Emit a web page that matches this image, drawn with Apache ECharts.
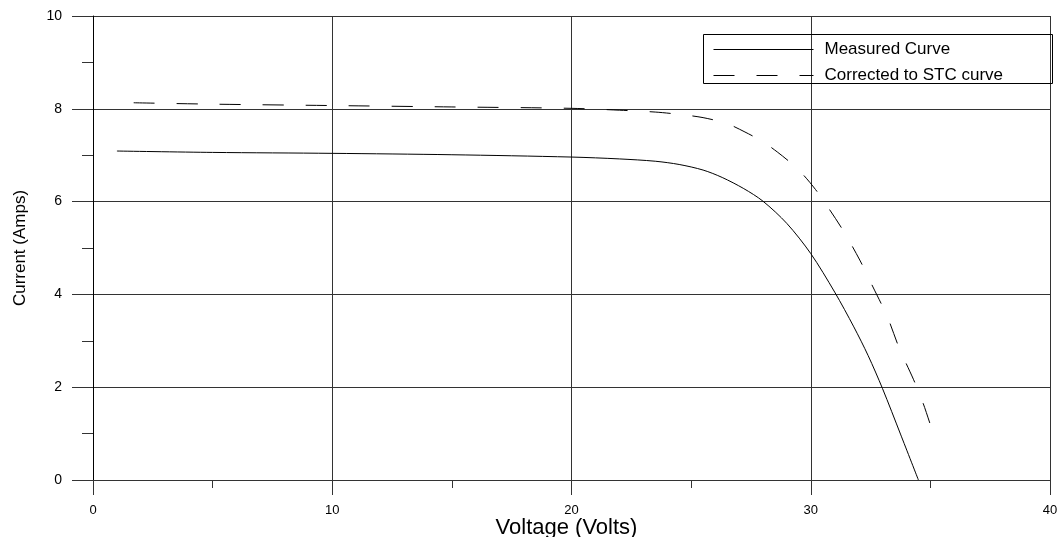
<!DOCTYPE html>
<html>
<head>
<meta charset="utf-8">
<script src="https://cdn.jsdelivr.net/npm/echarts@6/dist/echarts.min.js"></script>
<style>
html,body{margin:0;padding:0;background:#fff;}
#chart{width:1063px;height:537px;}
</style>
</head>
<body>
<div id="chart"></div>
<script>
const measuredV = [1, 5, 10, 15, 20, 22, 23.5, 24.5, 25.5, 26.3, 27.2, 28, 29, 30, 31, 31.8, 32.4, 33, 33.75, 34.5];
const measuredI = [7.09, 7.06, 7.04, 7.01, 6.96, 6.92, 6.87, 6.80, 6.68, 6.52, 6.28, 6.01, 5.53, 4.88, 4.05, 3.30, 2.68, 1.97, 0.99, 0];
const stcV = [1.7, 5, 10, 15, 20, 22, 23.5, 24.5, 25.5, 26.5, 27.25, 28, 28.6, 29.2, 29.7, 30.2, 30.6, 31.35, 32.05, 32.6, 33.2, 33.7, 34.3, 34.7, 35.1];
const stcI = [8.13, 8.10, 8.07, 8.04, 8.01, 7.97, 7.93, 7.88, 7.81, 7.68, 7.50, 7.29, 7.07, 6.82, 6.57, 6.26, 5.97, 5.38, 4.74, 4.16, 3.52, 2.84, 2.16, 1.65, 1.03];
const seriesNames = ['Measured Curve', 'Corrected to STC curve'];
const xTitle = 'Voltage (Volts)';
const yTitle = 'Current (Amps)';

const font = "'Liberation Sans', Arial, sans-serif";
const gridColor = '#333';
const pair = (xs, ys) => xs.map((x, i) => [x, ys[i]]);

const chart = echarts.init(document.getElementById('chart'), null, {renderer: 'canvas'});
chart.setOption({
  animation: false,
  backgroundColor: '#fff',
  grid: {left: 93, right: 13, top: 16, bottom: 57, containLabel: false, outerBoundsMode: 'none'},
  graphic: [{
    type: 'rect', z: 5,
    shape: {x: 703.5, y: 34.5, width: 349, height: 49},
    style: {fill: 'none', stroke: '#000', lineWidth: 1}
  }],
  legend: {
    orient: 'vertical', left: 713, top: 41, padding: 0,
    itemWidth: 100, itemHeight: 14, itemGap: 9,
    itemStyle: {opacity: 0},
    lineStyle: {width: 1},
    textStyle: {fontSize: 17, color: '#000', fontFamily: font, padding: [0, 0, 0, 6]},
    data: seriesNames
  },
  xAxis: {
    type: 'value', min: 0, max: 40, interval: 10,
    name: xTitle, nameLocation: 'middle', nameGap: 37, nameMoveOverlap: false,
    nameTextStyle: {fontSize: 22, color: '#000', fontFamily: font, padding: [0, 10, 0, 0]},
    axisLine: {show: true, lineStyle: {color: gridColor, width: 1}},
    axisTick: {show: true, length: 15, lineStyle: {color: gridColor}},
    minorTick: {show: true, splitNumber: 2, length: 8, lineStyle: {color: gridColor}},
    axisLabel: {fontSize: 13, color: '#000', fontFamily: font, margin: 24},
    splitLine: {show: true, lineStyle: {color: gridColor, width: 1}}
  },
  yAxis: {
    type: 'value', min: 0, max: 10, interval: 2,
    name: yTitle, nameLocation: 'middle', nameGap: 64, nameRotate: 90, nameMoveOverlap: false,
    nameTextStyle: {fontSize: 17, color: '#000', fontFamily: font},
    axisLine: {show: true, lineStyle: {color: '#000', width: 1}},
    axisTick: {show: true, length: 21, lineStyle: {color: gridColor}},
    minorTick: {show: true, splitNumber: 2, length: 11, lineStyle: {color: gridColor}},
    axisLabel: {fontSize: 14, color: '#000', fontFamily: font, margin: 31},
    splitLine: {show: true, lineStyle: {color: gridColor, width: 1}}
  },
  series: [
    {
      name: seriesNames[0], type: 'line', data: pair(measuredV, measuredI),
      smooth: 0.3, symbol: 'none', showSymbol: false,
      lineStyle: {color: '#000', width: 1, type: 'solid'},
      itemStyle: {color: '#000'}, z: 3
    },
    {
      name: seriesNames[1], type: 'line', data: pair(stcV, stcI),
      smooth: 0.3, symbol: 'none', showSymbol: false,
      lineStyle: {color: '#000', width: 1, type: [21, 22]},
      itemStyle: {color: '#000'}, z: 3
    }
  ]
});
</script>
</body>
</html>
